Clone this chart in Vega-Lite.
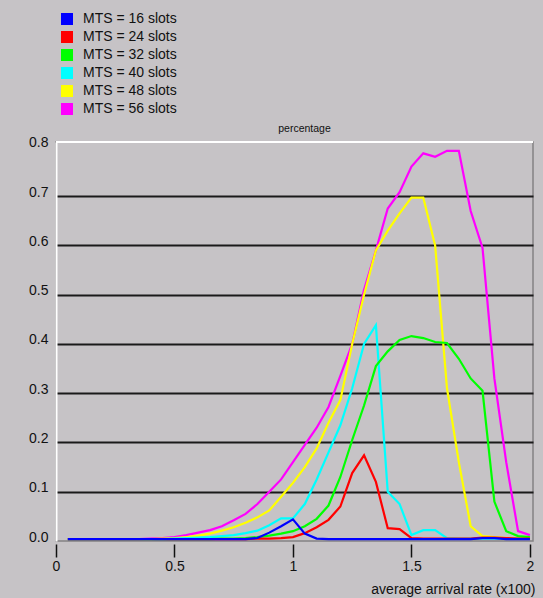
{
  "$schema": "https://vega.github.io/schema/vega-lite/v6.json",
  "width": 477,
  "height": 399,
  "autosize": {"type": "none"},
  "padding": {"left": 56, "top": 142, "right": 10, "bottom": 57},
  "background": "#C6C3C6",
  "config": {
    "font": "Liberation Sans",
    "view": {"stroke": "#848284", "strokeWidth": 1.5},
    "axis": {"labelFont": "Liberation Sans", "labelFontSize": 14, "labelColor": "#111111", "titleFont": "Liberation Sans", "titleFontSize": 14, "titleFontWeight": "normal", "titleColor": "#111111"},
    "legend": {"labelFont": "Liberation Sans", "labelFontSize": 14, "labelColor": "#111111"}
  },
  "data": {"values": [
    {"s":"MTS = 56 slots","x":0.05,"y":0.004},{"s":"MTS = 56 slots","x":0.1,"y":0.004},{"s":"MTS = 56 slots","x":0.15,"y":0.004},{"s":"MTS = 56 slots","x":0.2,"y":0.004},{"s":"MTS = 56 slots","x":0.25,"y":0.004},{"s":"MTS = 56 slots","x":0.3,"y":0.004},{"s":"MTS = 56 slots","x":0.35,"y":0.004},{"s":"MTS = 56 slots","x":0.4,"y":0.005},{"s":"MTS = 56 slots","x":0.45,"y":0.006},{"s":"MTS = 56 slots","x":0.5,"y":0.008},{"s":"MTS = 56 slots","x":0.55,"y":0.012},{"s":"MTS = 56 slots","x":0.6,"y":0.017},{"s":"MTS = 56 slots","x":0.65,"y":0.022},{"s":"MTS = 56 slots","x":0.7,"y":0.03},{"s":"MTS = 56 slots","x":0.75,"y":0.042},{"s":"MTS = 56 slots","x":0.8,"y":0.055},{"s":"MTS = 56 slots","x":0.85,"y":0.075},{"s":"MTS = 56 slots","x":0.9,"y":0.1},{"s":"MTS = 56 slots","x":0.95,"y":0.125},{"s":"MTS = 56 slots","x":1.0,"y":0.16},{"s":"MTS = 56 slots","x":1.05,"y":0.195},{"s":"MTS = 56 slots","x":1.1,"y":0.23},{"s":"MTS = 56 slots","x":1.15,"y":0.272},{"s":"MTS = 56 slots","x":1.2,"y":0.335},{"s":"MTS = 56 slots","x":1.25,"y":0.4},{"s":"MTS = 56 slots","x":1.3,"y":0.51},{"s":"MTS = 56 slots","x":1.35,"y":0.59},{"s":"MTS = 56 slots","x":1.4,"y":0.675},{"s":"MTS = 56 slots","x":1.45,"y":0.708},{"s":"MTS = 56 slots","x":1.5,"y":0.76},{"s":"MTS = 56 slots","x":1.55,"y":0.787},{"s":"MTS = 56 slots","x":1.6,"y":0.78},{"s":"MTS = 56 slots","x":1.65,"y":0.792},{"s":"MTS = 56 slots","x":1.7,"y":0.792},{"s":"MTS = 56 slots","x":1.75,"y":0.67},{"s":"MTS = 56 slots","x":1.8,"y":0.595},{"s":"MTS = 56 slots","x":1.85,"y":0.33},{"s":"MTS = 56 slots","x":1.9,"y":0.16},{"s":"MTS = 56 slots","x":1.95,"y":0.02},{"s":"MTS = 56 slots","x":2.0,"y":0.012},
    {"s":"MTS = 48 slots","x":0.05,"y":0.004},{"s":"MTS = 48 slots","x":0.1,"y":0.004},{"s":"MTS = 48 slots","x":0.15,"y":0.004},{"s":"MTS = 48 slots","x":0.2,"y":0.004},{"s":"MTS = 48 slots","x":0.25,"y":0.004},{"s":"MTS = 48 slots","x":0.3,"y":0.004},{"s":"MTS = 48 slots","x":0.35,"y":0.004},{"s":"MTS = 48 slots","x":0.4,"y":0.004},{"s":"MTS = 48 slots","x":0.45,"y":0.005},{"s":"MTS = 48 slots","x":0.5,"y":0.006},{"s":"MTS = 48 slots","x":0.55,"y":0.008},{"s":"MTS = 48 slots","x":0.6,"y":0.011},{"s":"MTS = 48 slots","x":0.65,"y":0.015},{"s":"MTS = 48 slots","x":0.7,"y":0.021},{"s":"MTS = 48 slots","x":0.75,"y":0.028},{"s":"MTS = 48 slots","x":0.8,"y":0.037},{"s":"MTS = 48 slots","x":0.85,"y":0.048},{"s":"MTS = 48 slots","x":0.9,"y":0.062},{"s":"MTS = 48 slots","x":0.95,"y":0.09},{"s":"MTS = 48 slots","x":1.0,"y":0.118},{"s":"MTS = 48 slots","x":1.05,"y":0.15},{"s":"MTS = 48 slots","x":1.1,"y":0.188},{"s":"MTS = 48 slots","x":1.15,"y":0.24},{"s":"MTS = 48 slots","x":1.2,"y":0.286},{"s":"MTS = 48 slots","x":1.25,"y":0.4},{"s":"MTS = 48 slots","x":1.3,"y":0.5},{"s":"MTS = 48 slots","x":1.35,"y":0.59},{"s":"MTS = 48 slots","x":1.4,"y":0.63},{"s":"MTS = 48 slots","x":1.45,"y":0.665},{"s":"MTS = 48 slots","x":1.5,"y":0.697},{"s":"MTS = 48 slots","x":1.55,"y":0.697},{"s":"MTS = 48 slots","x":1.6,"y":0.6},{"s":"MTS = 48 slots","x":1.65,"y":0.31},{"s":"MTS = 48 slots","x":1.7,"y":0.16},{"s":"MTS = 48 slots","x":1.75,"y":0.03},{"s":"MTS = 48 slots","x":1.8,"y":0.01},{"s":"MTS = 48 slots","x":1.85,"y":0.008},{"s":"MTS = 48 slots","x":1.9,"y":0.006},{"s":"MTS = 48 slots","x":1.95,"y":0.005},{"s":"MTS = 48 slots","x":2.0,"y":0.005},
    {"s":"MTS = 40 slots","x":0.05,"y":0.004},{"s":"MTS = 40 slots","x":0.1,"y":0.004},{"s":"MTS = 40 slots","x":0.15,"y":0.004},{"s":"MTS = 40 slots","x":0.2,"y":0.004},{"s":"MTS = 40 slots","x":0.25,"y":0.004},{"s":"MTS = 40 slots","x":0.3,"y":0.004},{"s":"MTS = 40 slots","x":0.35,"y":0.004},{"s":"MTS = 40 slots","x":0.4,"y":0.004},{"s":"MTS = 40 slots","x":0.45,"y":0.004},{"s":"MTS = 40 slots","x":0.5,"y":0.005},{"s":"MTS = 40 slots","x":0.55,"y":0.006},{"s":"MTS = 40 slots","x":0.6,"y":0.007},{"s":"MTS = 40 slots","x":0.65,"y":0.008},{"s":"MTS = 40 slots","x":0.7,"y":0.01},{"s":"MTS = 40 slots","x":0.75,"y":0.012},{"s":"MTS = 40 slots","x":0.8,"y":0.016},{"s":"MTS = 40 slots","x":0.85,"y":0.021},{"s":"MTS = 40 slots","x":0.9,"y":0.032},{"s":"MTS = 40 slots","x":0.95,"y":0.046},{"s":"MTS = 40 slots","x":1.0,"y":0.046},{"s":"MTS = 40 slots","x":1.05,"y":0.075},{"s":"MTS = 40 slots","x":1.1,"y":0.125},{"s":"MTS = 40 slots","x":1.15,"y":0.18},{"s":"MTS = 40 slots","x":1.2,"y":0.235},{"s":"MTS = 40 slots","x":1.25,"y":0.31},{"s":"MTS = 40 slots","x":1.3,"y":0.4},{"s":"MTS = 40 slots","x":1.35,"y":0.438},{"s":"MTS = 40 slots","x":1.4,"y":0.1},{"s":"MTS = 40 slots","x":1.45,"y":0.075},{"s":"MTS = 40 slots","x":1.5,"y":0.012},{"s":"MTS = 40 slots","x":1.55,"y":0.022},{"s":"MTS = 40 slots","x":1.6,"y":0.022},{"s":"MTS = 40 slots","x":1.65,"y":0.006},{"s":"MTS = 40 slots","x":1.7,"y":0.005},{"s":"MTS = 40 slots","x":1.75,"y":0.005},{"s":"MTS = 40 slots","x":1.8,"y":0.005},{"s":"MTS = 40 slots","x":1.85,"y":0.005},{"s":"MTS = 40 slots","x":1.9,"y":0.005},{"s":"MTS = 40 slots","x":1.95,"y":0.005},{"s":"MTS = 40 slots","x":2.0,"y":0.005},
    {"s":"MTS = 32 slots","x":0.05,"y":0.004},{"s":"MTS = 32 slots","x":0.1,"y":0.004},{"s":"MTS = 32 slots","x":0.15,"y":0.004},{"s":"MTS = 32 slots","x":0.2,"y":0.004},{"s":"MTS = 32 slots","x":0.25,"y":0.004},{"s":"MTS = 32 slots","x":0.3,"y":0.004},{"s":"MTS = 32 slots","x":0.35,"y":0.004},{"s":"MTS = 32 slots","x":0.4,"y":0.004},{"s":"MTS = 32 slots","x":0.45,"y":0.004},{"s":"MTS = 32 slots","x":0.5,"y":0.004},{"s":"MTS = 32 slots","x":0.55,"y":0.004},{"s":"MTS = 32 slots","x":0.6,"y":0.004},{"s":"MTS = 32 slots","x":0.65,"y":0.004},{"s":"MTS = 32 slots","x":0.7,"y":0.005},{"s":"MTS = 32 slots","x":0.75,"y":0.005},{"s":"MTS = 32 slots","x":0.8,"y":0.006},{"s":"MTS = 32 slots","x":0.85,"y":0.008},{"s":"MTS = 32 slots","x":0.9,"y":0.011},{"s":"MTS = 32 slots","x":0.95,"y":0.015},{"s":"MTS = 32 slots","x":1.0,"y":0.02},{"s":"MTS = 32 slots","x":1.05,"y":0.03},{"s":"MTS = 32 slots","x":1.1,"y":0.045},{"s":"MTS = 32 slots","x":1.15,"y":0.072},{"s":"MTS = 32 slots","x":1.2,"y":0.13},{"s":"MTS = 32 slots","x":1.25,"y":0.205},{"s":"MTS = 32 slots","x":1.3,"y":0.275},{"s":"MTS = 32 slots","x":1.35,"y":0.355},{"s":"MTS = 32 slots","x":1.4,"y":0.385},{"s":"MTS = 32 slots","x":1.45,"y":0.408},{"s":"MTS = 32 slots","x":1.5,"y":0.416},{"s":"MTS = 32 slots","x":1.55,"y":0.412},{"s":"MTS = 32 slots","x":1.6,"y":0.404},{"s":"MTS = 32 slots","x":1.65,"y":0.402},{"s":"MTS = 32 slots","x":1.7,"y":0.37},{"s":"MTS = 32 slots","x":1.75,"y":0.33},{"s":"MTS = 32 slots","x":1.8,"y":0.305},{"s":"MTS = 32 slots","x":1.85,"y":0.08},{"s":"MTS = 32 slots","x":1.9,"y":0.02},{"s":"MTS = 32 slots","x":1.95,"y":0.01},{"s":"MTS = 32 slots","x":2.0,"y":0.008},
    {"s":"MTS = 24 slots","x":0.05,"y":0.004},{"s":"MTS = 24 slots","x":0.1,"y":0.004},{"s":"MTS = 24 slots","x":0.15,"y":0.004},{"s":"MTS = 24 slots","x":0.2,"y":0.004},{"s":"MTS = 24 slots","x":0.25,"y":0.004},{"s":"MTS = 24 slots","x":0.3,"y":0.004},{"s":"MTS = 24 slots","x":0.35,"y":0.004},{"s":"MTS = 24 slots","x":0.4,"y":0.004},{"s":"MTS = 24 slots","x":0.45,"y":0.004},{"s":"MTS = 24 slots","x":0.5,"y":0.004},{"s":"MTS = 24 slots","x":0.55,"y":0.004},{"s":"MTS = 24 slots","x":0.6,"y":0.004},{"s":"MTS = 24 slots","x":0.65,"y":0.004},{"s":"MTS = 24 slots","x":0.7,"y":0.004},{"s":"MTS = 24 slots","x":0.75,"y":0.004},{"s":"MTS = 24 slots","x":0.8,"y":0.004},{"s":"MTS = 24 slots","x":0.85,"y":0.005},{"s":"MTS = 24 slots","x":0.9,"y":0.005},{"s":"MTS = 24 slots","x":0.95,"y":0.006},{"s":"MTS = 24 slots","x":1.0,"y":0.008},{"s":"MTS = 24 slots","x":1.05,"y":0.016},{"s":"MTS = 24 slots","x":1.1,"y":0.028},{"s":"MTS = 24 slots","x":1.15,"y":0.043},{"s":"MTS = 24 slots","x":1.2,"y":0.07},{"s":"MTS = 24 slots","x":1.25,"y":0.138},{"s":"MTS = 24 slots","x":1.3,"y":0.174},{"s":"MTS = 24 slots","x":1.35,"y":0.12},{"s":"MTS = 24 slots","x":1.4,"y":0.026},{"s":"MTS = 24 slots","x":1.45,"y":0.024},{"s":"MTS = 24 slots","x":1.5,"y":0.006},{"s":"MTS = 24 slots","x":1.55,"y":0.005},{"s":"MTS = 24 slots","x":1.6,"y":0.005},{"s":"MTS = 24 slots","x":1.65,"y":0.005},{"s":"MTS = 24 slots","x":1.7,"y":0.005},{"s":"MTS = 24 slots","x":1.75,"y":0.005},{"s":"MTS = 24 slots","x":1.8,"y":0.007},{"s":"MTS = 24 slots","x":1.85,"y":0.007},{"s":"MTS = 24 slots","x":1.9,"y":0.006},{"s":"MTS = 24 slots","x":1.95,"y":0.005},{"s":"MTS = 24 slots","x":2.0,"y":0.005},
    {"s":"MTS = 16 slots","x":0.05,"y":0.004},{"s":"MTS = 16 slots","x":0.1,"y":0.004},{"s":"MTS = 16 slots","x":0.15,"y":0.004},{"s":"MTS = 16 slots","x":0.2,"y":0.004},{"s":"MTS = 16 slots","x":0.25,"y":0.004},{"s":"MTS = 16 slots","x":0.3,"y":0.004},{"s":"MTS = 16 slots","x":0.35,"y":0.004},{"s":"MTS = 16 slots","x":0.4,"y":0.004},{"s":"MTS = 16 slots","x":0.45,"y":0.004},{"s":"MTS = 16 slots","x":0.5,"y":0.004},{"s":"MTS = 16 slots","x":0.55,"y":0.004},{"s":"MTS = 16 slots","x":0.6,"y":0.004},{"s":"MTS = 16 slots","x":0.65,"y":0.004},{"s":"MTS = 16 slots","x":0.7,"y":0.004},{"s":"MTS = 16 slots","x":0.75,"y":0.004},{"s":"MTS = 16 slots","x":0.8,"y":0.004},{"s":"MTS = 16 slots","x":0.85,"y":0.006},{"s":"MTS = 16 slots","x":0.9,"y":0.017},{"s":"MTS = 16 slots","x":0.95,"y":0.03},{"s":"MTS = 16 slots","x":1.0,"y":0.044},{"s":"MTS = 16 slots","x":1.05,"y":0.015},{"s":"MTS = 16 slots","x":1.1,"y":0.005},{"s":"MTS = 16 slots","x":1.15,"y":0.004},{"s":"MTS = 16 slots","x":1.2,"y":0.004},{"s":"MTS = 16 slots","x":1.25,"y":0.004},{"s":"MTS = 16 slots","x":1.3,"y":0.004},{"s":"MTS = 16 slots","x":1.35,"y":0.004},{"s":"MTS = 16 slots","x":1.4,"y":0.004},{"s":"MTS = 16 slots","x":1.45,"y":0.004},{"s":"MTS = 16 slots","x":1.5,"y":0.004},{"s":"MTS = 16 slots","x":1.55,"y":0.004},{"s":"MTS = 16 slots","x":1.6,"y":0.004},{"s":"MTS = 16 slots","x":1.65,"y":0.004},{"s":"MTS = 16 slots","x":1.7,"y":0.004},{"s":"MTS = 16 slots","x":1.75,"y":0.004},{"s":"MTS = 16 slots","x":1.8,"y":0.006},{"s":"MTS = 16 slots","x":1.85,"y":0.006},{"s":"MTS = 16 slots","x":1.9,"y":0.004},{"s":"MTS = 16 slots","x":1.95,"y":0.004},{"s":"MTS = 16 slots","x":2.0,"y":0.004}
  ]},
  "layer": [
    {
      "mark": {"type": "line", "strokeWidth": 2.2, "clip": true},
      "encoding": {
        "x": {"field": "x", "type": "quantitative", "scale": {"domain": [0, 2.013], "nice": false, "zero": false},
          "axis": {"title": "average arrival rate (x100)", "values": [0, 0.5, 1, 1.5, 2], "labelExpr": "'' + datum.value", "offset": 3, "domain": false, "grid": false, "ticks": true, "tickSize": 13, "tickWidth": 1.5, "tickColor": "#111111", "labelPadding": 2, "labelFlush": false, "labelOverlap": false, "titleAnchor": null, "titleAlign": "right", "titleBaseline": "alphabetic", "titleX": 479, "titleY": 49}},
        "y": {"field": "y", "type": "quantitative", "scale": {"domain": [0, 0.81], "nice": false},
          "axis": {"title": "percentage", "titleAngle": 0, "titleAnchor": null, "titleAlign": "center", "titleBaseline": "middle", "titleX": 248, "titleY": -14, "titleFontSize": 10.5, "values": [0, 0.1, 0.2, 0.3, 0.4, 0.5, 0.6, 0.7, 0.8], "format": ".1f", "ticks": false, "domainColor": "white", "domainWidth": 2, "grid": true, "gridColor": {"condition": {"test": "datum.value < 0.05 || datum.value > 0.75", "value": "transparent"}, "value": "#1a1a1a"}, "gridWidth": 2, "labelPadding": 8, "labelOffset": -4, "labelBaseline": "middle", "labelOverlap": false}},
        "color": {"field": "s", "type": "nominal",
          "scale": {"domain": ["MTS = 16 slots", "MTS = 24 slots", "MTS = 32 slots", "MTS = 40 slots", "MTS = 48 slots", "MTS = 56 slots"], "range": ["#0000FF", "#FF0000", "#00FF00", "#00FFFF", "#FFFF00", "#FF00FF"]},
          "legend": {"title": null, "orient": "none", "legendX": 4, "legendY": -130, "symbolType": "square", "symbolSize": 144, "symbolStrokeWidth": 0, "labelOffset": 9, "rowPadding": 4, "padding": 0,
            "encode": {"symbols": {"update": {"fill": {"scale": "color", "field": "value"}, "fillOpacity": {"value": 1}}}}}}
      }
    },
    {
      "mark": {"type": "rule", "color": "white", "strokeWidth": 2},
      "encoding": {"y": {"datum": 0.81}}
    }
  ]
}
